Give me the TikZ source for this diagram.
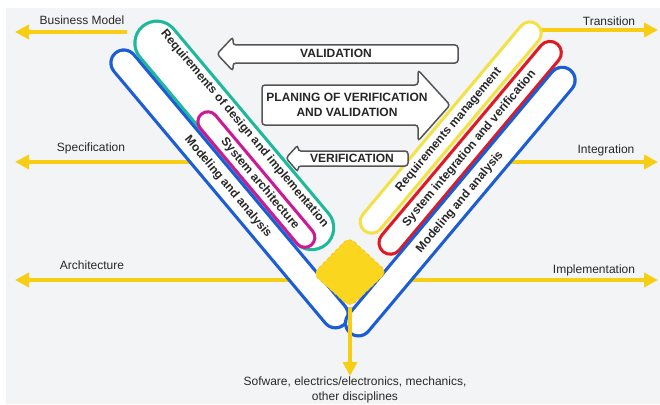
\documentclass[tikz,border=0pt]{standalone}
\usepackage{fontspec}
\setmainfont{Liberation Sans}
\usetikzlibrary{arrows.meta}
\definecolor{vblue}{RGB}{28,92,214}
\definecolor{vteal}{RGB}{30,185,155}
\definecolor{vmag}{RGB}{205,25,150}
\definecolor{vred}{RGB}{225,25,35}
\definecolor{vyel}{RGB}{243,226,70}
\definecolor{arrowgold}{RGB}{247,206,20}
\definecolor{diagold}{RGB}{250,215,30}
\definecolor{bggray}{RGB}{243,244,246}
\definecolor{boxgray}{RGB}{85,85,85}
\definecolor{txtgray}{RGB}{40,40,40}
\begin{document}
\begin{tikzpicture}[x=1pt,y=-1pt,
  lbl/.style={font=\fontsize{12}{15}\selectfont, text=txtgray, inner sep=0pt},
  stxt/.style={font=\bfseries\fontsize{12}{14}\selectfont, text=black!85, inner sep=0pt},
  btxt/.style={font=\bfseries\fontsize{12}{15}\selectfont, text=black!85, inner sep=0pt},
  yarrow/.style={draw=arrowgold, line width=4pt, -{Triangle[length=14pt,width=14pt]}},
  blockarr/.style={draw=boxgray, fill=white, line width=1.5pt, rounded corners=3pt},
  stadout/.style={line cap=round},
  stadin/.style={draw=white, line cap=round}]
\useasboundingbox (0,0) rectangle (660,404);
\fill[white] (0,0) rectangle (660,404);
\fill[bggray] (6,8) rectangle (660,404);

% arrow end points
\coordinate (bmS) at (127,32);  \coordinate (bmE) at (15,32);
\coordinate (spS) at (190,162); \coordinate (spE) at (15,162);
\coordinate (arS) at (289,280); \coordinate (arE) at (15,280);
\coordinate (trS) at (540,30);  \coordinate (trE) at (658,30);
\coordinate (inS) at (510,162); \coordinate (inE) at (658,162);
\coordinate (imS) at (411,280); \coordinate (imE) at (658,280);

\draw[yarrow] (bmS) -- (bmE);
\draw[yarrow] (spS) -- (spE);
\draw[yarrow] (arS) -- (arE);
\draw[yarrow] (trS) -- (trE);
\draw[yarrow] (inS) -- (inE);
\draw[yarrow] (imS) -- (imE);

% left arm stadium end centres
\coordinate (tlA) at (156.8,43.1); \coordinate (tlB) at (311.8,227.7);
\coordinate (mlA) at (207.8,121.7); \coordinate (mlB) at (304.9,237.4);
\coordinate (blA) at (123.8,62.9); \coordinate (blB) at (335.4,314.9);
% right arm stadium end centres
\coordinate (yrA) at (529.8,33.3); \coordinate (yrB) at (371.6,221.8);
\coordinate (rrA) at (549.9,52.8); \coordinate (rrB) at (390.4,242.8);
\coordinate (brA) at (562.2,80.2); \coordinate (brB) at (358.4,323.0);

% left arm
\draw[stadout, draw=vteal, line width=47pt] (tlA) -- (tlB);
\draw[stadin, line width=40.6pt] (tlA) -- (tlB);
\draw[stadout, draw=vmag, line width=23pt] (mlA) -- (mlB);
\draw[stadin, line width=16.6pt] (mlA) -- (mlB);
\draw[stadout, draw=vblue, line width=29pt] (blA) -- (blB);
\draw[stadin, line width=22.6pt] (blA) -- (blB);
% right arm
\draw[stadout, draw=vyel, line width=26pt] (yrA) -- (yrB);
\draw[stadin, line width=19.6pt] (yrA) -- (yrB);
\draw[stadout, draw=vred, line width=26pt] (rrA) -- (rrB);
\draw[stadin, line width=19.6pt] (rrA) -- (rrB);
\draw[stadout, draw=vblue, line width=29pt] (brA) -- (brB);
\draw[stadin, line width=22.6pt] (brA) -- (brB);

% diamond junction
\coordinate (dT) at (349,237); \coordinate (dR) at (387,272);
\coordinate (dB) at (350,307); \coordinate (dL) at (313,274);
\fill[diagold, rounded corners=7pt] (dT) -- (dR) -- (dB) -- (dL) -- cycle;
\draw[arrowgold!85!orange, line width=0.8pt, dashed, rounded corners=7pt] (dT) -- (dR) -- (dB) -- (dL) -- cycle;

% vertical arrow
\coordinate (vE) at (350,376);
\draw[yarrow] (dB) -- (vE);

% stadium texts
\node[stxt, rotate=-50] (tLreq) at (244.4,128.8) {Requirements of design and implementation};
\node[stxt, rotate=-50] (tLsys) at (259.9,183.8) {System architecture};
\node[stxt, rotate=-50] (tLmod) at (228,187) {Modeling and analysis};
\node[stxt, rotate=50] (tRreq) at (448.8,129.8) {Requirements management};
\node[stxt, rotate=50] (tRsys) at (469.5,148.6) {System integration and verification};
\node[stxt, rotate=50] (tRmod) at (460,202) {Modeling and analysis};

% block arrows
\draw[blockarr] (217,54) -- (233,37) -- (233,45) -- (458,45) -- (458,63) -- (233,63) -- (233,71) -- cycle;
\draw[blockarr] (262,85) -- (418,85) -- (418,70) -- (450,105) -- (418,141) -- (418,125) -- (262,125) -- cycle;
\draw[blockarr] (286,158) -- (298,145) -- (298,151) -- (408,151) -- (408,166) -- (298,166) -- (298,172) -- cycle;
\node[btxt] (tval) at (336,53) {VALIDATION};
\node[btxt, align=center] (tplan) at (347,105) {PLANING OF VERIFICATION\\AND VALIDATION};
\node[btxt] (tver) at (352,158) {VERIFICATION};

% side labels
\node[lbl] (lbm) at (82,20) {Business Model};
\node[lbl] (lsp) at (91,148) {Specification};
\node[lbl] (lar) at (92,265) {Architecture};
\node[lbl] (ltr) at (609,21) {Transition};
\node[lbl] (lin) at (606,150) {Integration};
\node[lbl] (lim) at (594,270) {Implementation};
\node[lbl, align=center] (lsw) at (355,390) {Sofware, electrics/electronics, mechanics,\\other disciplines};
\end{tikzpicture}
\end{document}
